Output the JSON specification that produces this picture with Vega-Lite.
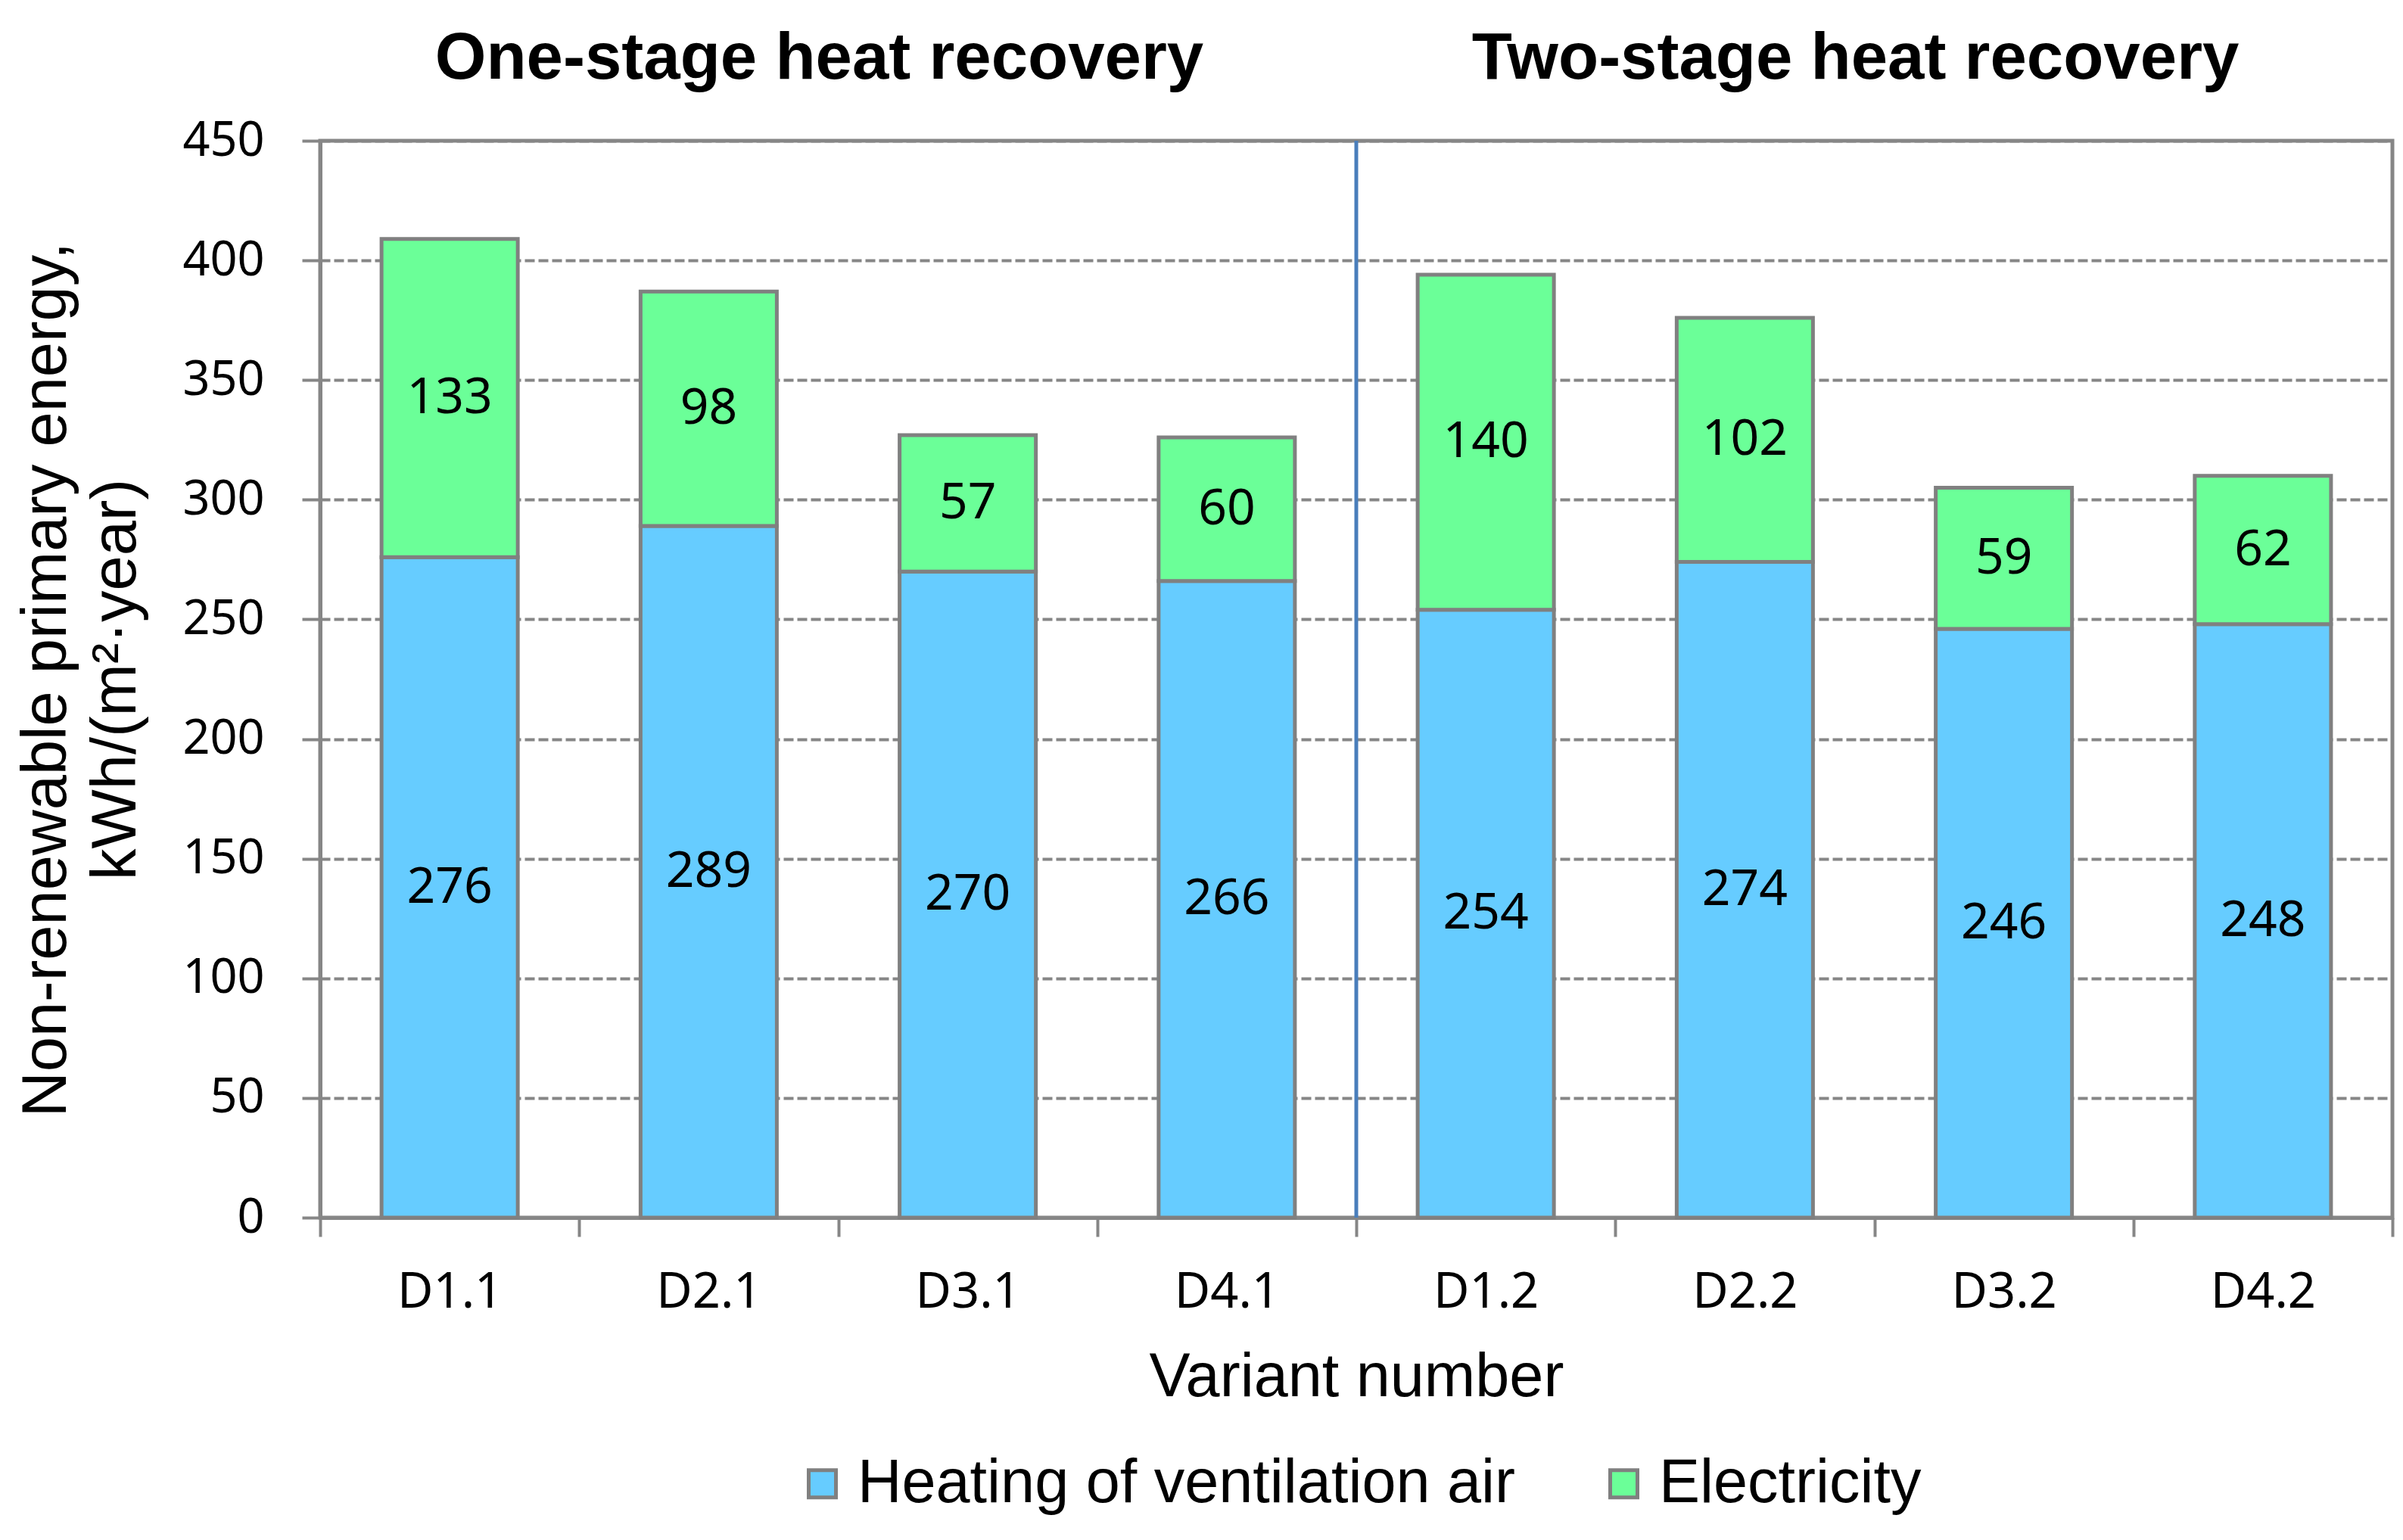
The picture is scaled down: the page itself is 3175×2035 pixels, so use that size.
{
  "$schema": "https://vega.github.io/schema/vega-lite/v6.json",
  "width": 2738,
  "height": 1423,
  "autosize": {"type": "none"},
  "padding": {"left": 423, "top": 186, "right": 14, "bottom": 426},
  "background": "white",
  "config": {
    "view": {"stroke": "#868686", "strokeWidth": 5},
    "legend": {"layout": {"bottom": {"anchor": "middle"}}}
  },
  "layer": [
    {
      "data": {
        "values": [
          {"variant": "D1.1", "component": "Heating of ventilation air", "value": 276},
          {"variant": "D1.1", "component": "Electricity", "value": 133},
          {"variant": "D2.1", "component": "Heating of ventilation air", "value": 289},
          {"variant": "D2.1", "component": "Electricity", "value": 98},
          {"variant": "D3.1", "component": "Heating of ventilation air", "value": 270},
          {"variant": "D3.1", "component": "Electricity", "value": 57},
          {"variant": "D4.1", "component": "Heating of ventilation air", "value": 266},
          {"variant": "D4.1", "component": "Electricity", "value": 60},
          {"variant": "D1.2", "component": "Heating of ventilation air", "value": 254},
          {"variant": "D1.2", "component": "Electricity", "value": 140},
          {"variant": "D2.2", "component": "Heating of ventilation air", "value": 274},
          {"variant": "D2.2", "component": "Electricity", "value": 102},
          {"variant": "D3.2", "component": "Heating of ventilation air", "value": 246},
          {"variant": "D3.2", "component": "Electricity", "value": 59},
          {"variant": "D4.2", "component": "Heating of ventilation air", "value": 248},
          {"variant": "D4.2", "component": "Electricity", "value": 62}
        ]
      },
      "layer": [
        {
          "mark": {"type": "bar", "width": {"band": 0.526}, "stroke": "#808080", "strokeWidth": 5},
          "encoding": {
            "x": {
              "field": "variant",
              "type": "nominal",
              "scale": {"domain": ["D1.1", "D2.1", "D3.1", "D4.1", "D1.2", "D2.2", "D3.2", "D4.2"], "paddingInner": 0, "paddingOuter": 0},
              "axis": {
                "title": "Variant number",
                "tickBand": "extent",
                "grid": false,
                "labelAngle": 0,
                "domainColor": "#868686",
                "domainWidth": 5,
                "tickColor": "#868686",
                "tickWidth": 4,
                "tickSize": 25,
                "labelFont": "Noto Sans",
                "labelFontSize": 65,
                "labelColor": "black",
                "labelPadding": 42,
                "titleFont": "Liberation Sans",
                "titleFontSize": 81,
                "titleFontWeight": "normal",
                "titleColor": "black",
                "titlePadding": 40
              }
            },
            "y": {
              "field": "value",
              "type": "quantitative",
              "stack": "zero",
              "scale": {"domain": [0, 450], "nice": false},
              "axis": {
                "values": [0, 50, 100, 150, 200, 250, 300, 350, 400, 450],
                "title": ["Non-renewable primary energy,", "kWh/(m²·year)"],
                "grid": true,
                "gridColor": "#868686",
                "gridDash": [13, 5],
                "gridWidth": 4,
                "domainColor": "#868686",
                "domainWidth": 5,
                "tickColor": "#868686",
                "tickWidth": 4,
                "tickSize": 24,
                "labelFont": "Noto Sans",
                "labelFontSize": 63,
                "labelColor": "black",
                "labelPadding": 50,
                "titleFont": "Liberation Sans",
                "titleFontSize": 83,
                "titleFontWeight": "normal",
                "titleColor": "black",
                "titlePadding": 45,
                "titleLineHeight": 92
              }
            },
            "color": {
              "field": "component",
              "type": "nominal",
              "scale": {"domain": ["Heating of ventilation air", "Electricity"], "range": ["#66CCFF", "#6BFF98"]},
              "legend": {
                "title": null,
                "orient": "bottom",
                "direction": "horizontal",
                "symbolType": "square",
                "symbolSize": 1296,
                "symbolStrokeColor": "#808080",
                "symbolStrokeWidth": 5,
                "symbolOpacity": 1,
                "labelFont": "Liberation Sans",
                "labelFontSize": 81,
                "labelColor": "black",
                "labelOffset": 6,
                "labelLimit": 2000,
                "columnPadding": 102,
                "offset": 60
              }
            },
            "order": {"field": "component", "sort": "descending"}
          }
        },
        {
          "mark": {"type": "text", "font": "Noto Sans", "fontSize": 66, "color": "black"},
          "encoding": {
            "x": {"field": "variant", "type": "nominal"},
            "y": {"field": "value", "type": "quantitative", "stack": "zero", "bandPosition": 0.5},
            "detail": {"field": "component"},
            "order": {"field": "component", "sort": "descending"},
            "text": {"field": "value", "type": "quantitative"}
          }
        }
      ]
    },
    {
      "data": {"values": [{}]},
      "mark": {"type": "rule", "color": "#4A7EBB", "strokeWidth": 5},
      "encoding": {"x": {"datum": "D1.2", "bandPosition": 0}}
    },
    {
      "data": {
        "values": [
          {"group": "One-stage heat recovery", "at": "D3.1"},
          {"group": "Two-stage heat recovery", "at": "D3.2"}
        ]
      },
      "mark": {"type": "text", "font": "Liberation Sans", "fontWeight": "bold", "fontSize": 87, "color": "black", "dx": -25},
      "encoding": {
        "x": {"field": "at", "type": "nominal", "bandPosition": 0},
        "y": {"datum": 484},
        "text": {"field": "group"}
      }
    }
  ]
}
